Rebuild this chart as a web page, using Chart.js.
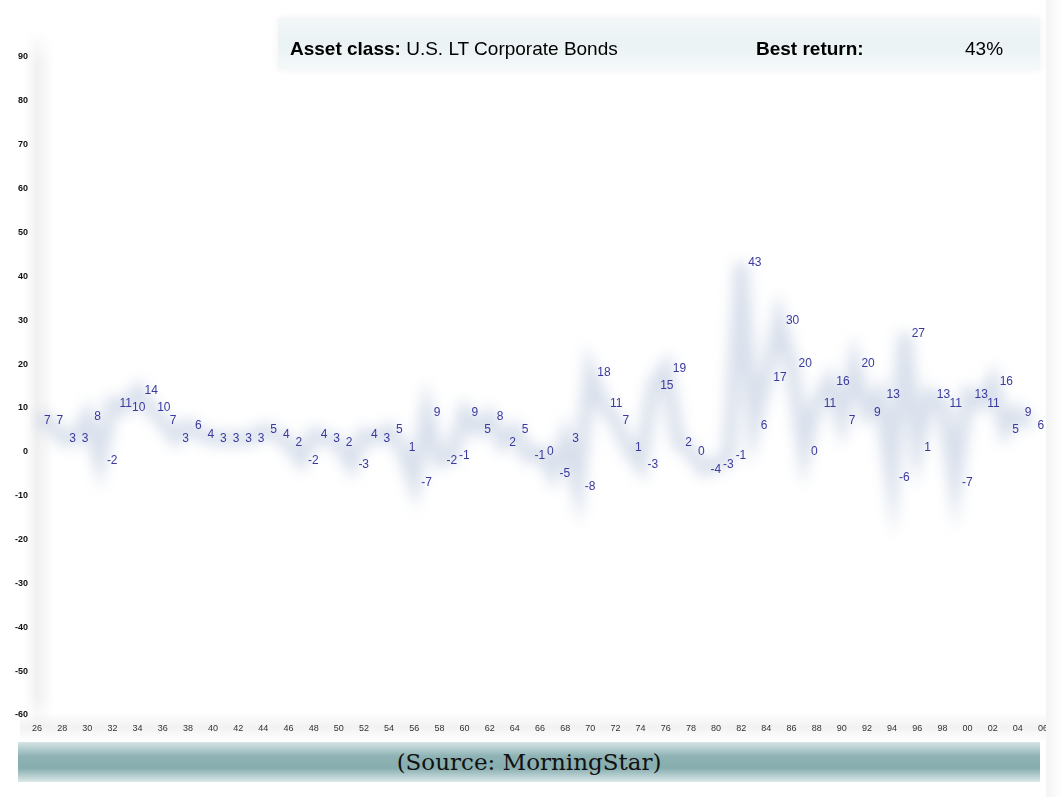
<!DOCTYPE html>
<html>
<head>
<meta charset="utf-8">
<script src="https://cdn.jsdelivr.net/npm/chart.js@4"></script>
<style>
  html, body { margin: 0; padding: 0; background: #fff; }
  #wrap { position: relative; width: 1062px; height: 797px; overflow: hidden; }
  #chart { position: absolute; left: 0; top: 0; }
  .band-left { position: absolute; left: 24px; top: 30px; width: 30px; height: 700px;
    background: linear-gradient(to right, rgba(0,0,0,0), rgba(0,0,0,0.06) 45%, rgba(0,0,0,0));
    -webkit-mask-image: linear-gradient(to bottom, transparent, #000 5%, #000 95%, transparent); }
  .band-bottom { position: absolute; left: 20px; top: 712px; width: 1030px; height: 30px;
    background: linear-gradient(to bottom, rgba(0,0,0,0), rgba(0,0,0,0.05) 50%, rgba(0,0,0,0)); }
  .band-right { position: absolute; left: 1046px; top: 0; width: 16px; height: 797px;
    background: linear-gradient(to right, #f4f4f4, #fff); }
  #title { position: absolute; left: 278px; top: 18px; width: 762px; height: 52px;
    background: linear-gradient(to bottom, #f3f7f8, #eaf2f4 50%, #f5f9fa);
    box-shadow: 0 0 8px rgba(0,0,0,0.06);
    font-family: "Liberation Sans", Arial, sans-serif; font-size: 19px; color: #000; }
  #title span { position: absolute; top: 20px; white-space: nowrap; }
  #source { position: absolute; left: 18px; top: 742px; width: 1022px; height: 40px;
    background: linear-gradient(to bottom, #d6e4e5, #8fb3b5 35%, #86adaf 65%, #dce8e9);
    font-family: "DejaVu Serif", "Liberation Serif", serif; font-size: 23px; color: #111;
    text-align: center; line-height: 40px; }
</style>
</head>
<body>
<div id="wrap">
  <div class="band-left"></div>
  <div class="band-bottom"></div>
  <canvas id="chart" width="1062" height="797"></canvas>
  <div class="band-right"></div>
  <div id="title">
    <span style="left:12px"><b>Asset class:</b> U.S. LT Corporate Bonds</span>
    <span style="left:478px"><b>Best return:</b></span>
    <span style="left:687px">43%</span>
  </div>
  <div id="source">(Source: MorningStar)</div>
</div>
<script>
const years = ['26','27','28','29','30','31','32','33','34','35','36','37','38','39',
  '40','41','42','43','44','45','46','47','48','49','50','51','52','53','54','55',
  '56','57','58','59','60','61','62','63','64','65','66','67','68','69','70','71',
  '72','73','74','75','76','77','78','79','80','81','82','83','84','85','86','87',
  '88','89','90','91','92','93','94','95','96','97','98','99','00','01','02','03',
  '04','05','06'];

// annual return, % (rounded as labelled in the picture)
const returns = [7,7,3,3,8,-2,11,10,14,10,7,3,6,4,3,3,3,3,5,
  4,2,-2,4,3,2,-3,4,3,5,1,-7,9,-2,-1,9,5,8,2,5,-1,
  0,-5,3,-8,18,11,7,1,-3,15,19,2,0,-4,-3,-1,
  43,6,17,30,20,0,11,16,7,20,9,13,-6,27,1,13,11,-7,13,11,16,5,9,6,
  null];

const yMin = -60, yMax = 90, yStep = 10;

// soft blurred line, like the original's shadowed series
const blurLine = {
  id: 'blurLine',
  beforeDatasetDraw(chart) {
    chart.ctx.save();
    chart.ctx.filter = 'blur(7px)';
  },
  afterDatasetDraw(chart) {
    chart.ctx.restore();
  }
};

// value labels next to each point
const valueLabels = {
  id: 'valueLabels',
  afterDatasetsDraw(chart) {
    const ctx = chart.ctx;
    const meta = chart.getDatasetMeta(0);
    ctx.save();
    ctx.font = '12px "Liberation Sans", Arial, sans-serif';
    ctx.fillStyle = '#3a3a9e';
    ctx.textAlign = 'left';
    ctx.textBaseline = 'middle';
    meta.data.forEach((pt, i) => {
      const v = returns[i];
      if (v === null) return;
      ctx.fillText(String(v), pt.x + 7, pt.y);
    });
    ctx.restore();
  }
};

new Chart(document.getElementById('chart'), {
  type: 'line',
  data: {
    labels: years,
    datasets: [{
      data: returns,
      borderColor: 'rgba(180,194,218,0.5)',
      borderWidth: 14,
      pointRadius: 0,
      tension: 0,
      spanGaps: false
    }]
  },
  options: {
    responsive: false,
    animation: false,
    layout: { padding: { top: 57, right: 19, bottom: 0, left: 0 } },
    plugins: { legend: { display: false }, tooltip: { enabled: false } },
    scales: {
      x: {
        offset: false,
        grid: { display: false, drawTicks: false },
        border: { display: false },
        afterFit(scale) { scale.height = 82; },
        ticks: {
          autoSkip: false,
          maxRotation: 0,
          padding: 8,
          color: '#333',
          font: { family: '"Liberation Sans Narrow", "Liberation Sans", Arial', size: 9 },
          callback(value, index) { return index % 2 === 0 ? years[index] : ''; }
        }
      },
      y: {
        min: yMin,
        max: yMax,
        grid: { display: false, drawTicks: false },
        border: { display: false },
        afterFit(scale) { scale.width = 37; },
        ticks: {
          stepSize: yStep,
          padding: 9,
          color: '#111',
          font: { family: '"Liberation Sans", Arial', size: 9, weight: 'bold' }
        }
      }
    }
  },
  plugins: [blurLine, valueLabels]
});
</script>
</body>
</html>
